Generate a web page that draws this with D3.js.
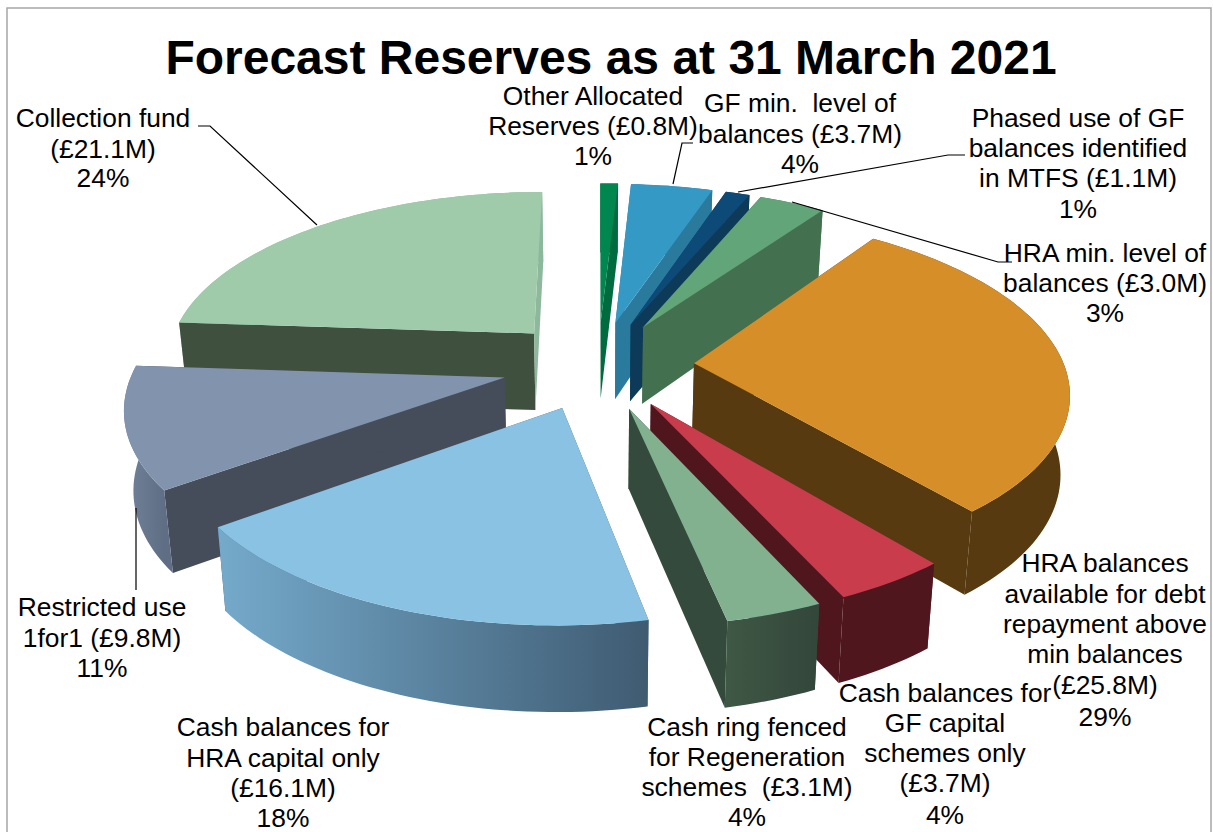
<!DOCTYPE html>
<html>
<head>
<meta charset="utf-8">
<title>Forecast Reserves as at 31 March 2021</title>
<script src="https://cdn.jsdelivr.net/npm/d3@7"></script>
<style>
  html, body { margin: 0; padding: 0; background: #fff; }
  svg { display: block; }
  text { font-family: "Liberation Sans", Arial, sans-serif; fill: #000; }
</style>
</head>
<body>
<svg id="chart" width="1213" height="832"></svg>
<script>
// Reserve balances in £M, clockwise from twelve o'clock
const reserves = [0.8, 3.7, 1.1, 3.0, 25.8, 3.7, 3.1, 16.1, 9.8, 21.1];
const labelLines = [
  ["Other Allocated", "Reserves (£0.8M)"],
  ["GF min.  level of", "balances (£3.7M)"],
  ["Phased use of GF", "balances identified", "in MTFS (£1.1M)"],
  ["HRA min. level of", "balances (£3.0M)"],
  ["HRA balances", "available for debt", "repayment above", "min balances", "(£25.8M)"],
  ["Cash balances for", "GF capital", "schemes only", "(£3.7M)"],
  ["Cash ring fenced", "for Regeneration", "schemes  (£3.1M)"],
  ["Cash balances for", "HRA capital only", "(£16.1M)"],
  ["Restricted use", "1for1 (£9.8M)"],
  ["Collection fund", "(£21.1M)"]
];

// Slice paint: top face, radial faces (start, end), outer wall gradient (left, right)
const topColors   = ["#00874f", "#3599c6", "#0e4a78", "#61a578", "#d68e28", "#c83c4c", "#82b190", "#8ac2e4", "#8293ae", "#a0cbab"];
const startFaces  = ["#006b3e", "#2a7a9e", "#0c3a58", "#43714f", "#573a10", "#50161e", "#334a3c", "#3f5c74", "#454d5a", "#40503f"];
const endFaces    = ["#006b3e", "#2a7a9e", "#0c3a58", "#43714f", "#573a10", "#50161e", "#334a3c", "#3f5c74", "#454d5a", "#8db89c"];
const wallLeft    = ["#006b3e", "#2a7a9e", "#0c3a58", "#43714f", "#573a10", "#50161e", "#3f5745", "#75aacb", "#728399", "#8db89c"];
const wallRight   = ["#006b3e", "#2a7a9e", "#0c3a58", "#43714f", "#573a10", "#50161e", "#33463a", "#3f5b72", "#5f6e84", "#8db89c"];

// Label placement: centre x and the baseline of each line
const labelX = [593, 800, 1078, 1105, 1105, 945, 747, 283, 102, 103];
const labelY = [
  [105, 135, 165], [112, 143, 173], [127, 157, 187, 218], [262, 292, 322],
  [572, 603, 633, 663, 694, 726], [702, 732, 762, 792, 824], [736, 766, 796, 826],
  [736, 767, 797, 827], [616, 647, 677], [127, 158, 187]
];
// Leader lines from slice to label
const leaders = [
  null,
  [[673, 184], [682, 143], [693, 143]],
  [[738, 192], [948, 155], [965, 155]],
  [[792, 202], [998, 262], [1012, 262]],
  null, null, null, null,
  [[136, 508], [136, 590]],
  [[317, 225], [210, 126], [198, 126]]
];

const svg = d3.select("#chart");
const centre = { x: 598, y: 365 };
const explosion = 0.26;        // pull of each slice from the centre, in radii
const perspective = 0.148;
const scaleX = d3.scaleLinear().domain([-1, 1]).range([-370, 370]);
const scaleY = d3.scaleLinear().domain([-1, 1]).range([-171, 171]);
const bottomShrink = 0.98;

// Pie-plane point (side, toward viewer) to screen position, with foreshortening
function project(side, fore) {
  const g = 1 / (1 - perspective * fore);
  return [centre.x + scaleX(side * g), centre.y + scaleY(fore * g)];
}

// The same point dropped to the underside of the extruded slice
function lower([x, y], fore) {
  return [centre.x + (x - centre.x) * bottomShrink, y + 78 + 7 * fore];
}

const pie = d3.pie().sort(null).startAngle(0).endAngle(2 * Math.PI);
const total = d3.sum(reserves);
const line = d3.line();
const defs = svg.append("defs");

const slices = pie(reserves).map((d, i) => {
  const mid = (d.startAngle + d.endAngle) / 2;
  const ox = explosion * Math.sin(mid);
  const oy = -explosion * Math.cos(mid);
  const steps = d3.range(0, 1.0001, 1 / Math.max(2, Math.ceil((d.endAngle - d.startAngle) * 40)));
  const arc = steps.map(t => {
    const a = d.startAngle + (d.endAngle - d.startAngle) * t;
    const fore = oy - Math.cos(a);
    return { top: project(ox + Math.sin(a), fore), fore };
  });
  return { i, apex: project(ox, oy), apexFore: oy, arc, order: oy };
});

// Painter's order: rear slices first
const drawOrder = slices.slice().sort((a, b) => d3.ascending(a.order, b.order));

drawOrder.forEach(s => {
  const g = svg.append("g");
  const topArc = s.arc.map(p => p.top);
  const lowArc = s.arc.map(p => lower(p.top, p.fore));
  const apexLow = lower(s.apex, s.apexFore);

  const xs = topArc.map(p => p[0]);
  const gradId = "wall-" + s.i;
  const grad = defs.append("linearGradient").attr("id", gradId)
    .attr("gradientUnits", "userSpaceOnUse")
    .attr("x1", d3.min(xs)).attr("x2", d3.max(xs)).attr("y1", 0).attr("y2", 0);
  grad.append("stop").attr("offset", 0).attr("stop-color", wallLeft[s.i]);
  grad.append("stop").attr("offset", 1).attr("stop-color", wallRight[s.i]);

  const outerWall = () => g.append("path")
    .attr("d", line(topArc.concat(lowArc.slice().reverse())) + "Z")
    .attr("fill", `url(#${gradId})`);
  const face = (edge, low, colour) => g.append("path")
    .attr("d", line([s.apex, edge, low, apexLow]) + "Z")
    .attr("fill", colour);

  if (s.order < 0) outerWall();
  face(topArc[0], lowArc[0], startFaces[s.i]);
  face(topArc[topArc.length - 1], lowArc[lowArc.length - 1], endFaces[s.i]);
  if (s.order >= 0) outerWall();

  g.append("path")
    .attr("d", line([s.apex].concat(topArc)) + "Z")
    .attr("fill", topColors[s.i]);
});

// Leader lines
leaders.forEach(pts => {
  if (pts) svg.append("path").attr("d", line(pts))
    .attr("fill", "none").attr("stroke", "#000").attr("stroke-width", 1.2);
});

// Data labels: name lines followed by the rounded share
reserves.forEach((v, i) => {
  const lines = labelLines[i].concat(`${Math.round(v / total * 100)}%`);
  const text = svg.append("text")
    .attr("text-anchor", "middle")
    .attr("font-size", 26.4)
    .style("white-space", "pre");
  lines.forEach((t, j) => {
    text.append("tspan").attr("x", labelX[i]).attr("y", labelY[i][j]).text(t);
  });
});

// Title
svg.append("text")
  .attr("x", 611).attr("y", 74)
  .attr("text-anchor", "middle")
  .attr("font-size", 48)
  .attr("font-weight", "bold")
  .text("Forecast Reserves as at 31 March 2021");

// Chart frame
svg.append("rect")
  .attr("x", 7).attr("y", 8).attr("width", 1204).attr("height", 840)
  .attr("fill", "none").attr("stroke", "#a6a6a6").attr("stroke-width", 1.5);
</script>
</body>
</html>
